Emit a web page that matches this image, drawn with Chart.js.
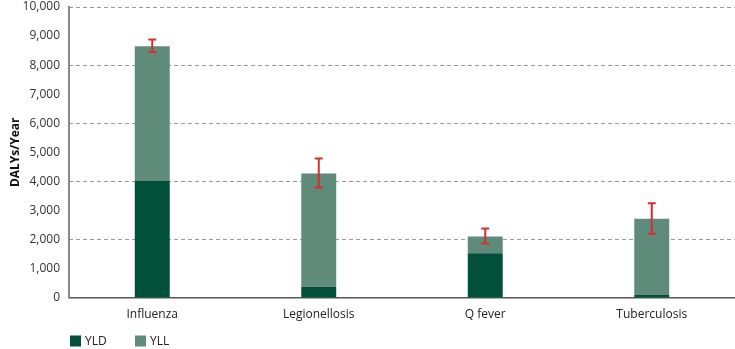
<!DOCTYPE html>
<html>
<head>
<meta charset="utf-8">
<script src="https://cdn.jsdelivr.net/npm/chart.js@4/dist/chart.umd.min.js"></script>
<style>
  html, body { margin: 0; padding: 0; background: #fff; overflow: hidden; }
  #wrap { width: 735px; height: 349px; }
</style>
</head>
<body>
<div id="wrap"><canvas id="dalyChart"></canvas></div>
<script>
const diseases = ['Influenza', 'Legionellosis', 'Q fever', 'Tuberculosis'];
const yld = [4030, 370, 1530, 90];
const yll = [4620, 3900, 570, 2620];
const errLow = [8450, 3790, 1860, 2200];
const errHigh = [8880, 4790, 2380, 3250];
const yTicks = [0, 1000, 2000, 3000, 4000, 5000, 6000, 7000, 8000, 9000, 10000];
const gridStep = 2000;

const FONT = 'Open Sans';

// red error whiskers on top of the stacked totals
const errorBars = {
  id: 'errorBars',
  afterDatasetsDraw(chart) {
    const c = chart.ctx;
    const y = chart.scales.y;
    const meta = chart.getDatasetMeta(1);
    c.save();
    c.strokeStyle = '#d3302f';
    c.lineWidth = 2;
    meta.data.forEach((bar, i) => {
      const top = y.getPixelForValue(errHigh[i]);
      const bot = y.getPixelForValue(errLow[i]);
      c.beginPath();
      c.moveTo(bar.x, top); c.lineTo(bar.x, bot);
      c.moveTo(bar.x - 4, top); c.lineTo(bar.x + 4, top);
      c.moveTo(bar.x - 4, bot); c.lineTo(bar.x + 4, bot);
      c.stroke();
    });
    c.restore();
  }
};

// small legend under the x labels, lined up with the y axis
const bottomLegend = {
  id: 'bottomLegend',
  afterDraw(chart) {
    const c = chart.ctx;
    let x = chart.chartArea.left + 1;
    const y = chart.height - 8;
    c.save();
    c.font = '12px "' + FONT + '"';
    c.textBaseline = 'middle';
    chart.data.datasets.forEach(ds => {
      c.fillStyle = ds.backgroundColor;
      c.fillRect(x, y - 5.5, 11, 11);
      c.fillStyle = '#222';
      c.fillText(ds.label, x + 15, y + 0.5);
      x += 65;
    });
    c.restore();
  }
};

new Chart(document.getElementById('dalyChart'), {
  type: 'bar',
  data: {
    labels: diseases,
    datasets: [{
      label: 'YLD',
      data: yld,
      yAxisID: 'y',
      backgroundColor: '#00503a',
      categoryPercentage: 1,
      barPercentage: 0.21
    }, {
      label: 'YLL',
      data: yll,
      yAxisID: 'y',
      backgroundColor: '#5f8b7a',
      categoryPercentage: 1,
      barPercentage: 0.21
    }]
  },
  options: {
    responsive: true,
    maintainAspectRatio: false,
    animation: false,
    layout: { padding: { top: 0, right: 0, left: 8, bottom: 25 } },
    plugins: {
      legend: { display: false },
      tooltip: { enabled: false }
    },
    scales: {
      x: {
        stacked: true,
        grid: { display: false },
        border: { color: '#555', width: 1.5 },
        ticks: { color: '#222', font: { family: FONT, size: 12 }, padding: 2 }
      },
      y: {
        stacked: true,
        min: yTicks[0],
        max: yTicks[yTicks.length - 1],
        afterFit(axis) { axis.width = 61; axis.paddingTop = 7; axis.paddingBottom = 0; },
        title: {
          display: true,
          text: 'DALYs/Year',
          color: '#111',
          font: { family: FONT, size: 12, weight: 'bold' },
          padding: { top: 0, bottom: 1 }
        },
        border: { color: '#888', width: 2 },
        grid: { display: false },
        ticks: {
          stepSize: yTicks[1] - yTicks[0],
          color: '#333',
          font: { family: FONT, size: 12, lineHeight: 1 },
          padding: 1,
          callback: v => v.toLocaleString('en-US')
        }
      },
      // dashed grid every 2,000 on a hidden helper axis
      yGrid: {
        position: 'right',
        min: yTicks[0],
        max: yTicks[yTicks.length - 1],
        afterFit(axis) { axis.width = 0; axis.paddingTop = 7; axis.paddingBottom = 0; },
        ticks: { display: false, stepSize: gridStep },
        border: { display: false, dash: [4, 3] },
        grid: {
          color: ctx => (ctx.tick && ctx.tick.value > 0) ? '#9a9a9a' : 'rgba(0,0,0,0)',
          lineWidth: 1,
          drawTicks: false
        }
      }
    }
  },
  plugins: [errorBars, bottomLegend]
});
</script>
</body>
</html>
